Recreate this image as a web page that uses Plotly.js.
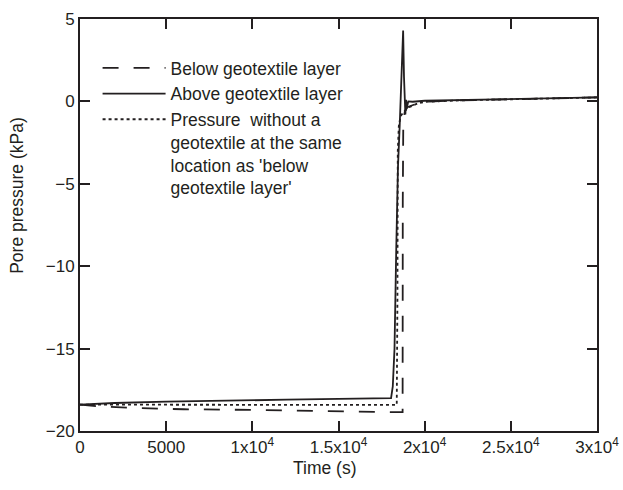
<!DOCTYPE html>
<html>
<head>
<meta charset="utf-8">
<script src="https://cdn.plot.ly/plotly-3.0.1.min.js"></script>
<style>html,body{margin:0;padding:0;background:#fff;}#chart{width:623px;height:490px;}</style>
</head>
<body>
<div id="chart"></div>
<script>
// Time (s) and pore pressure (kPa)
const belowT = [0, 1000, 3000, 6000, 10000, 14000, 16000, 18000, 18720, 18730, 18760, 18850, 19000, 19500, 20000, 22000, 25000, 28000, 30000];
const belowP = [-18.4, -18.5, -18.6, -18.68, -18.72, -18.76, -18.82, -18.85, -18.85, -6, -1.2, -0.6, -0.35, -0.15, -0.02, 0.06, 0.13, 0.2, 0.24];

const aboveT = [0, 2000, 5000, 8000, 12000, 15000, 18000, 18050, 18150, 18250, 18350, 18450, 18550, 18620, 18700, 18750, 18800, 18850, 18880, 18920, 18960, 19050, 19300, 20000, 22000, 25000, 28000, 30000];
const aboveP = [-18.4, -18.3, -18.22, -18.15, -18.1, -18.05, -18.02, -18.0, -17.3, -15.0, -9.0, -4.0, -1.5, 0.2, 3.0, 4.3, 1.5, -0.1, -0.8, 0.1, -0.4, 0.0, -0.02, 0.04, 0.08, 0.14, 0.2, 0.24];

const withoutT = [0, 3000, 8000, 12000, 18380, 18420, 18440, 18500, 18600, 18800, 19100, 19600, 20000, 22000, 25000, 28000, 30000];
const withoutP = [-18.4, -18.4, -18.41, -18.42, -18.42, -12.0, -3.0, -1.5, -0.9, -0.6, -0.35, -0.12, -0.03, 0.06, 0.13, 0.2, 0.24];

const legendNames = [
  'Below geotextile layer',
  'Above geotextile layer',
  "Pressure  without a<br>geotextile at the same<br>location as 'below<br>geotextile layer'"
];

const xTickVals = [0, 5000, 10000, 15000, 20000, 25000, 30000];
const xTickText = ['0', '5000', '1x10<sup>4</sup>', '1.5x10<sup>4</sup>', '2x10<sup>4</sup>', '2.5x10<sup>4</sup>', '3x10<sup>4</sup>'];
const yTickVals = [5, 0, -5, -10, -15, -20];
const yTickText = ['5', '0', '\u22125', '\u221210', '\u221215', '\u221220'];
const xTitle = 'Time (s)';
const yTitle = 'Pore pressure (kPa)';

const ink = '#231f20';
const fam = 'Liberation Sans, Arial, sans-serif';
const traces = [
  {x: belowT, y: belowP, name: legendNames[0], mode: 'lines', line: {color: ink, width: 1.8, dash: '16px,15px'}},
  {x: aboveT, y: aboveP, name: legendNames[1], mode: 'lines', line: {color: ink, width: 1.8}},
  {x: withoutT, y: withoutP, name: legendNames[2], mode: 'lines', line: {color: ink, width: 1.8, dash: '3px,3px'}}
];

const axisCommon = {
  showline: true, linecolor: ink, linewidth: 2, mirror: 'ticks',
  ticks: 'inside', ticklen: 10, tickwidth: 2, tickcolor: ink,
  showgrid: false, zeroline: false,
  tickfont: {family: fam, size: 17, color: ink}
};

const layout = {
  width: 623, height: 490,
  margin: {l: 80, r: 26, t: 19, b: 59},
  paper_bgcolor: '#fff', plot_bgcolor: '#fff',
  font: {family: fam, size: 17, color: ink},
  showlegend: true,
  legend: {
    x: 0.034, y: 0.925, xanchor: 'left', yanchor: 'top', valign: 'top',
    bgcolor: 'rgba(0,0,0,0)', borderwidth: 0,
    itemwidth: 63, tracegroupgap: 0,
    font: {family: fam, size: 17.5, color: ink}
  },
  xaxis: Object.assign({}, axisCommon, {
    range: [0, 30000], tickmode: 'array', tickvals: xTickVals, ticktext: xTickText
  }),
  yaxis: Object.assign({}, axisCommon, {
    range: [-20, 5], tickmode: 'array', tickvals: yTickVals, ticktext: yTickText
  }),
  annotations: [
    {text: xTitle, xref: 'paper', yref: 'paper', x: 0.474, y: -0.09, xanchor: 'center', yanchor: 'middle',
     showarrow: false, font: {family: fam, size: 17.5, color: ink}},
    {text: yTitle, xref: 'paper', yref: 'paper', x: -0.122, y: 0.573, xanchor: 'center', yanchor: 'middle',
     textangle: -90, showarrow: false, font: {family: fam, size: 17.5, color: ink}}
  ]
};

Plotly.newPlot('chart', traces, layout, {displayModeBar: false, staticPlot: true});
</script>
</body>
</html>
